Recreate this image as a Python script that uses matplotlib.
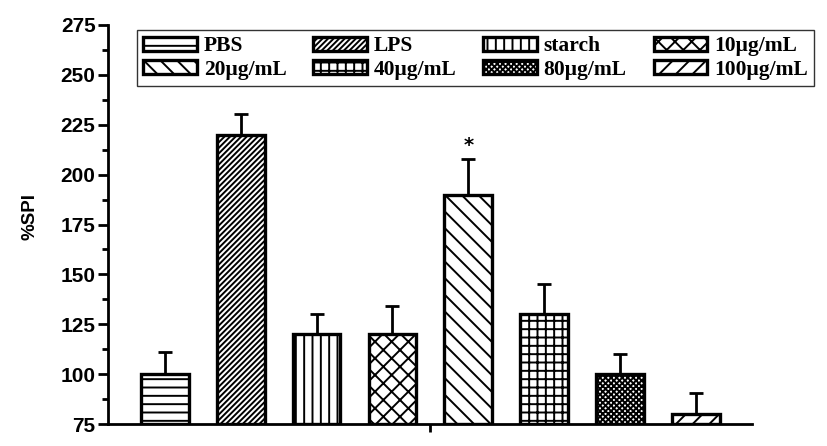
import matplotlib
matplotlib.use("Agg")
import matplotlib.pyplot as plt
from matplotlib.ticker import MultipleLocator

groups = ["PBS", "LPS", "starch", "10μg/mL", "20μg/mL", "40μg/mL", "80μg/mL", "100μg/mL"]
spi = [100, 220, 120, 120, 190, 130, 100, 80]
spi_err = [11, 10.5, 10, 14, 18, 15, 10, 10.5]
hatches = ["--", "//////", "||", "xx", "\\\\", "++", "xxxxxx", "//"]
star_group = 4

plt.rcParams["hatch.linewidth"] = 1.4

fig = plt.figure(figsize=(8.27, 4.46), dpi=100)
ax = fig.add_axes([108 / 827, 1 - 424 / 446, (752 - 108) / 827, (424 - 25) / 446])

x = list(range(len(groups)))
bars = ax.bar(x, [v - 75 for v in spi], bottom=75, width=0.63,
              color="white", edgecolor="black", linewidth=2.4, zorder=2)
for b, h, name in zip(bars, hatches, groups):
    b.set_hatch(h)
    b.set_label(name)

ax.errorbar(x, spi, yerr=[[0] * len(spi), spi_err], fmt="none",
            ecolor="black", elinewidth=2, capsize=5, capthick=2, zorder=3)

ax.text(star_group, spi[star_group] + spi_err[star_group] + 2, "*",
        ha="center", va="bottom", fontsize=14, fontweight="bold")

ax.set_xlim(-0.75, 7.74)
ax.set_ylim(75, 275)
ax.yaxis.set_major_locator(MultipleLocator(25))
ax.yaxis.set_minor_locator(MultipleLocator(12.5))
ax.set_xticks([3.5])
ax.set_xticklabels([])

for side in ("top", "right"):
    ax.spines[side].set_visible(False)
for side in ("left", "bottom"):
    ax.spines[side].set_linewidth(2)

ax.tick_params(axis="y", which="major", direction="out", length=7, width=2,
               labelsize=15, pad=2)
ax.tick_params(axis="y", which="minor", direction="out", length=4, width=2)
ax.tick_params(axis="x", which="major", direction="out", length=6, width=2)
for lbl in ax.get_yticklabels():
    lbl.set_fontweight("bold")
    lbl.set_fontfamily("Liberation Sans")

ax.set_ylabel("%SPI", fontsize=13.5, fontweight="bold", family="Liberation Sans")
ax.yaxis.set_label_coords(-0.108, 0.52)

# legend reads row by row: reorder for matplotlib's column-wise fill
ncol = 4
order = [r * ncol + c for c in range(ncol) for r in range(2)]
leg = ax.legend(handles=[bars[i] for i in order], labels=[groups[i] for i in order],
                ncol=ncol, loc="upper left",
                bbox_to_anchor=(29 / 644, 1.0 - 5 / 399),
                prop={"family": "Liberation Serif", "weight": "bold", "size": 15.5},
                frameon=True, fancybox=False, edgecolor="black",
                handlelength=2.5, handleheight=0.65, handletextpad=0.3,
                columnspacing=1.25, labelspacing=0.15, borderpad=0.3,
                borderaxespad=0)
leg.get_frame().set_linewidth(1)

fig.savefig("out.png", dpi=100)
